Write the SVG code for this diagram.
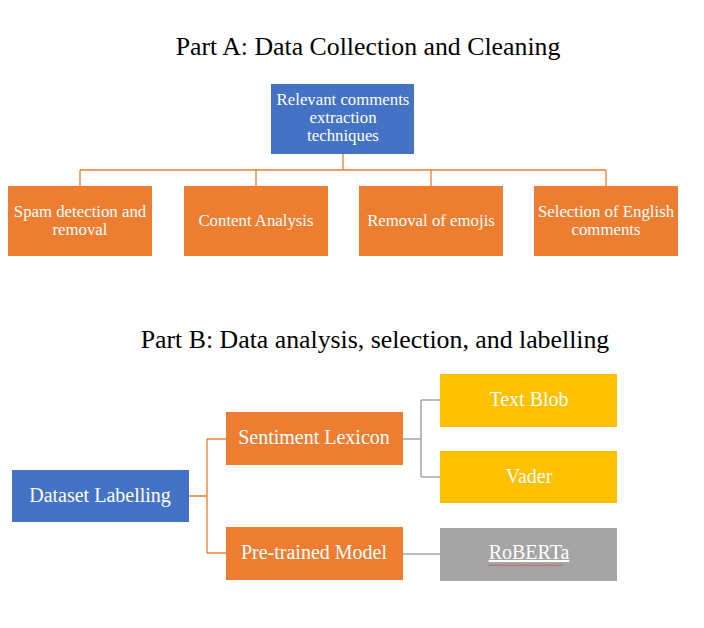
<svg xmlns="http://www.w3.org/2000/svg" width="704" height="628" viewBox="0 0 704 628">
<style>
.t{font-family:"Liberation Serif","Times New Roman",serif;text-anchor:middle;}
.title{font-size:25.8px;fill:#000;}
.w{fill:#fff;}
.s{font-size:16.8px;}
.b{font-size:20px;}
.blue{fill:#4472c4;}
.org{fill:#ed7d31;}
.yel{fill:#ffc000;}
.gry{fill:#a5a5a5;}
.co{stroke:#ed7d31;stroke-width:1.3;fill:none;}
.cg{stroke:#a5a5a5;stroke-width:1.5;fill:none;}
</style>
<rect width="704" height="628" fill="#fff"/>
<text class="t title" x="368" y="55">Part A: Data Collection and Cleaning</text>
<text class="t title" x="375" y="348">Part B: Data analysis, selection, and labelling</text>
<g id="connectors">
<path class="co" d="M343 154V170M80 170H606M80 170V186M256 170V186M431 170V186M606 170V186"/>
<path class="co" d="M189 496H207M207 439V553M207 439H226M207 553H226"/>
<path class="cg" d="M403 439H421M421 400V477M421 400H440M421 477H440M403 554H440"/>
</g>
<g id="n-root"><rect class="blue" x="271" y="84" width="143" height="70"/>
<text class="t w s" x="343" y="105">Relevant comments</text>
<text class="t w s" x="343" y="123">extraction</text>
<text class="t w s" x="343" y="141">techniques</text></g>
<g id="n-spam"><rect class="org" x="8" y="186" width="144" height="70"/>
<text class="t w s" x="80" y="217">Spam detection and</text>
<text class="t w s" x="80" y="235">removal</text></g>
<g id="n-content"><rect class="org" x="184" y="186" width="144" height="70"/>
<text class="t w s" x="256" y="226">Content Analysis</text></g>
<g id="n-emoji"><rect class="org" x="359" y="186" width="144" height="70"/>
<text class="t w s" x="431" y="226">Removal of emojis</text></g>
<g id="n-english"><rect class="org" x="534" y="186" width="144" height="70"/>
<text class="t w s" x="606" y="217">Selection of English</text>
<text class="t w s" x="606" y="235">comments</text></g>
<g id="n-dataset"><rect class="blue" x="12" y="470" width="177" height="52"/>
<text class="t w b" x="100" y="502">Dataset Labelling</text></g>
<g id="n-lexicon"><rect class="org" x="226" y="412" width="177" height="53"/>
<text class="t w b" x="314" y="444">Sentiment Lexicon</text></g>
<g id="n-pretrained"><rect class="org" x="226" y="527" width="177" height="53"/>
<text class="t w b" x="314" y="559">Pre-trained Model</text></g>
<g id="n-textblob"><rect class="yel" x="440" y="374" width="177" height="53"/>
<text class="t w b" x="529" y="406">Text Blob</text></g>
<g id="n-vader"><rect class="yel" x="440" y="451" width="177" height="52"/>
<text class="t w b" x="529" y="483">Vader</text></g>
<g id="n-roberta"><rect class="gry" x="440" y="528" width="177" height="53"/>
<text class="t w b" x="529" y="559" text-decoration="underline">RoBERTa</text>
<path d="M488 564.5l1.5 1.5 1.5-1.5 1.5 1.5 1.5-1.5 1.5 1.5 1.5-1.5 1.5 1.5 1.5-1.5 1.5 1.5 1.5-1.5 1.5 1.5 1.5-1.5 1.5 1.5 1.5-1.5 1.5 1.5 1.5-1.5 1.5 1.5 1.5-1.5 1.5 1.5 1.5-1.5 1.5 1.5 1.5-1.5 1.5 1.5 1.5-1.5 1.5 1.5 1.5-1.5 1.5 1.5 1.5-1.5 1.5 1.5 1.5-1.5 1.5 1.5 1.5-1.5 1.5 1.5 1.5-1.5 1.5 1.5 1.5-1.5 1.5 1.5 1.5-1.5 1.5 1.5 1.5-1.5 1.5 1.5 1.5-1.5 1.5 1.5 1.5-1.5 1.5 1.5 1.5-1.5 1.5 1.5 1.5-1.5 1.5 1.5 1.5-1.5" fill="none" stroke="#c0504d" stroke-width="0.8"/></g>
</svg>
